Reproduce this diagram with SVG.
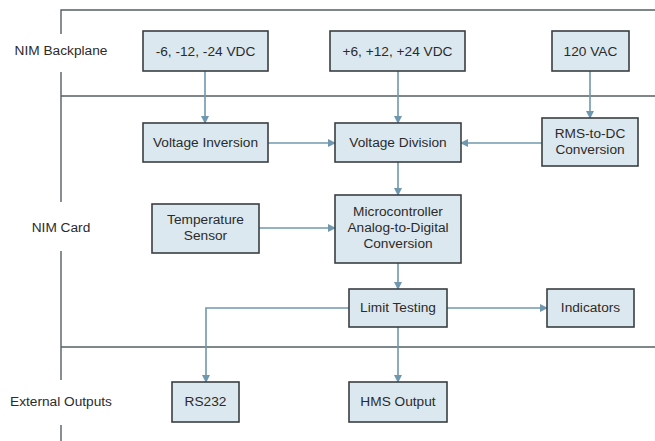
<svg xmlns="http://www.w3.org/2000/svg" width="655" height="441" viewBox="0 0 655 441">
<style>
.frame{stroke:#555f64;stroke-width:1.4;fill:none}
.box{fill:#dce8ef;stroke:#3a3f42;stroke-width:1.6}
.lbl{font-family:"Liberation Sans",Arial,sans-serif;font-size:13.7px;fill:#2b2b2b;text-anchor:middle}
.con{stroke:#6f98ae;stroke-width:1.6;fill:none;marker-end:url(#ah)}
</style>
<defs>
<marker id="ah" markerWidth="8" markerHeight="8" refX="7" refY="4" orient="auto" markerUnits="userSpaceOnUse">
<path d="M0,0 L8,4 L0,8 Z" fill="#6f98ae"/>
</marker>
</defs>
<rect width="655" height="441" fill="#ffffff"/>
<g id="frame">
<path class="frame" d="M61,34 V10 H655"/>
<path class="frame" d="M61,72 V202"/>
<path class="frame" d="M61,96 H655"/>
<path class="frame" d="M61,251 V380"/>
<path class="frame" d="M61,347 H655"/>
<path class="frame" d="M61,425 V441"/>
<text class="lbl" x="61" y="55">NIM Backplane</text>
<text class="lbl" x="61" y="232">NIM Card</text>
<text class="lbl" x="61" y="406">External Outputs</text>
</g>
<g id="connectors">
<path class="con" d="M205,71 V123"/>
<path class="con" d="M398,71 V123"/>
<path class="con" d="M590,71 V118"/>
<path class="con" d="M268,143 H335"/>
<path class="con" d="M542,143 H461"/>
<path class="con" d="M398,162 V195"/>
<path class="con" d="M259,228 H335"/>
<path class="con" d="M398,263 V289"/>
<path class="con" d="M447,308 H547"/>
<path class="con" d="M349,308 H206 V382"/>
<path class="con" d="M398,327 V382"/>
</g>
<g id="neg-vdc"><rect class="box" x="143" y="31" width="125" height="40"/><text class="lbl" x="205.5" y="56">-6, -12, -24 VDC</text></g>
<g id="pos-vdc"><rect class="box" x="330" y="31" width="135" height="40"/><text class="lbl" x="397.5" y="56">+6, +12, +24 VDC</text></g>
<g id="vac"><rect class="box" x="552" y="31" width="77" height="40"/><text class="lbl" x="590.5" y="56">120 VAC</text></g>
<g id="voltage-inversion"><rect class="box" x="143" y="123" width="125" height="39"/><text class="lbl" x="205.5" y="147">Voltage Inversion</text></g>
<g id="voltage-division"><rect class="box" x="335" y="123" width="126" height="39"/><text class="lbl" x="398" y="147">Voltage Division</text></g>
<g id="rms-to-dc"><rect class="box" x="542" y="118" width="96" height="48"/><text class="lbl" x="590" y="138">RMS-to-DC</text><text class="lbl" x="590" y="154">Conversion</text></g>
<g id="temperature-sensor"><rect class="box" x="152" y="204" width="107" height="49"/><text class="lbl" x="205.5" y="224">Temperature</text><text class="lbl" x="205.5" y="240">Sensor</text></g>
<g id="microcontroller"><rect class="box" x="335" y="195" width="126" height="68"/><text class="lbl" x="398" y="216">Microcontroller</text><text class="lbl" x="398" y="232">Analog-to-Digital</text><text class="lbl" x="398" y="248">Conversion</text></g>
<g id="limit-testing"><rect class="box" x="349" y="289" width="98" height="38"/><text class="lbl" x="398" y="312">Limit Testing</text></g>
<g id="indicators"><rect class="box" x="547" y="289" width="87" height="38"/><text class="lbl" x="590.5" y="312">Indicators</text></g>
<g id="rs232"><rect class="box" x="172" y="382" width="67" height="40"/><text class="lbl" x="205.5" y="406">RS232</text></g>
<g id="hms-output"><rect class="box" x="349" y="382" width="98" height="40"/><text class="lbl" x="398" y="406">HMS Output</text></g>
</svg>
